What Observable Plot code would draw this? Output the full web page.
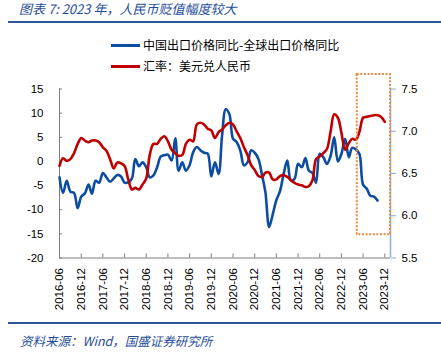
<!DOCTYPE html>
<html><head><meta charset="utf-8">
<script src="https://cdn.jsdelivr.net/npm/d3@7"></script>
<script src="https://cdn.jsdelivr.net/npm/@observablehq/plot@0.6"></script>
<style>
body{margin:0;background:#fff;}
#wrap{position:relative;width:441px;height:358px;overflow:hidden;background:#fff;}
.title{position:absolute;left:19px;top:0px;font-family:"Noto Sans CJK SC",sans-serif;font-style:italic;font-size:13px;color:#1f4e9a;line-height:17px;white-space:nowrap;}
.rule{position:absolute;left:8px;width:433px;height:2px;background:#2f5597;}
.leg{position:absolute;left:111px;display:flex;align-items:center;font-family:"Noto Sans CJK SC",sans-serif;font-size:12px;color:#000;white-space:nowrap;line-height:16px;}
.sw{width:29px;height:3px;margin-right:3px;}
.src{position:absolute;left:20px;top:333px;font-family:"Noto Sans CJK SC",sans-serif;font-style:italic;font-size:12.5px;color:#1f4e9a;line-height:16px;white-space:nowrap;}
#chart{position:absolute;left:0;top:60px;}
</style></head>
<body>
<div id="wrap">
  <div class="title">图表 7: 2023 年，人民币贬值幅度较大</div>
  <div class="rule" style="top:21px"></div>
  <div class="leg" style="top:37px"><div class="sw" style="background:#0c4da2"></div><span id="l1"></span></div>
  <div class="leg" style="top:58px"><div class="sw" style="background:#c00000"></div><span id="l2"></span></div>
  <div id="chart"></div>
  <div class="rule" style="top:322px"></div>
  <div class="src">资料来源：Wind，国盛证券研究所</div>
</div>
<script>
// ---- data ----
const seriesNames = ["中国出口价格同比-全球出口价格同比", "汇率：美元兑人民币"];
const startMonth = "2016-06";
// China export price YoY minus global export price YoY (%), 2016-06 .. 2023-10
const exportGap = [
  -3.3, -6.5, -4.0, -6.3, -6.5, -9.7, -7.3,
  -6.6, -4.8, -6.7, -4.0, -4.4, -2.4, -3.3, -4.2, -3.5, -2.8, -3.1, -4.4,
  -4.3, -3.5, 0.5, -1.0, -0.2, -1.2, -3.3, -2.9, -1.2, 1.0, 1.3, 1.4,
  0.2, 4.8, -1.9, -0.2, -1.9, -0.8, 1.9, 3.0, 2.3, 1.8, 1.6, -3.1,
  -0.2, -2.6, 5.4, 10.8, 9.8, 4.7, 4.0, 2.3, -0.8, -0.2, 2.3, 1.8,
  0.5, -2.9, -6.4, -13.6, -11.0, -8.0, -6.2, -2.6, 0.2, -3.9, -3.6, -0.5,
  -1.2, 0.7, -1.9, -2.4, -4.4, 1.6, 0.9, -0.5, 1.2, 5.0, 0.0, 1.6,
  4.7, 0.9, 2.8, 2.5, 1.6, -4.8, -5.6, -7.1, -7.3, -8.1
];
// USD/CNY, 2016-06 .. 2023-12
const usdCny = [
  6.59, 6.68, 6.65, 6.67, 6.74, 6.85, 6.92,
  6.89, 6.87, 6.89, 6.89, 6.87, 6.81, 6.77, 6.67, 6.56, 6.63, 6.62, 6.59,
  6.43, 6.31, 6.33, 6.31, 6.37, 6.44, 6.72, 6.85, 6.85, 6.91, 6.94, 6.88,
  6.78, 6.74, 6.71, 6.72, 6.85, 6.90, 6.88, 7.08, 7.10, 7.08, 7.03, 7.01,
  6.92, 6.99, 7.02, 7.07, 7.10, 7.08, 7.00, 6.92, 6.81, 6.72, 6.60, 6.54,
  6.47, 6.46, 6.51, 6.51, 6.43, 6.43, 6.47, 6.48, 6.46, 6.42, 6.39, 6.37,
  6.36, 6.34, 6.35, 6.42, 6.67, 6.70, 6.74, 6.79, 7.00, 7.20, 7.16, 6.98,
  6.78, 6.86, 6.91, 6.90, 6.99, 7.16, 7.17, 7.18, 7.19, 7.19, 7.17, 7.11
];
const xTickLabels = ["2016-06","2016-12","2017-06","2017-12","2018-06","2018-12","2019-06","2019-12",
  "2020-06","2020-12","2021-06","2021-12","2022-06","2022-12","2023-06","2023-12"];
const leftTicks = [-20, -15, -10, -5, 0, 5, 10, 15];
const rightTicks = [5.5, 6.0, 6.5, 7.0, 7.5];
const xRange = ["2016-06-01", "2024-01-18"];
// highlighted window (orange dotted box), in data units
const boxX = ["2023-04-13", "2024-01-18"];
const boxLeftY = [-15.2, 18.0];

// ---- build ----
document.getElementById("l1").textContent = seriesNames[0];
document.getElementById("l2").textContent = seriesNames[1];
const parse = d3.utcParse("%Y-%m");
const t0 = parse(startMonth);
const months = n => d3.range(n).map(i => d3.utcMonth.offset(t0, i));
const blueRows = months(exportGap.length).map((date, i) => ({date, v: exportGap[i]}));
const redRows = months(usdCny.length).map((date, i) => ({date, v: usdCny[i]}));
const xDomain = xRange.map(s => new Date(s + "T00:00Z"));
const xTicks = xTickLabels.map(parse);
const toLeft = d3.scaleLinear([5.5, 7.5], [-20, 15]);
const box = [{x1: new Date(boxX[0] + "T00:00Z"), x2: new Date(boxX[1] + "T00:00Z"), y1: boxLeftY[0], y2: boxLeftY[1]}];

const chart = Plot.plot({
  width: 441, height: 260,
  marginLeft: 59, marginRight: 51, marginTop: 28.5, marginBottom: 62.5,
  style: {fontFamily: "'Liberation Sans', Arial, sans-serif", fontSize: "11.5px", color: "#000", background: "transparent", overflow: "visible"},
  x: {type: "utc", domain: xDomain},
  y: {domain: [-20, 15]},
  marks: [
    Plot.axisY(leftTicks, {anchor: "left", tickSize: 0, tickPadding: 16, tickFormat: d => String(d)}),
    Plot.axisY(leftTicks, {anchor: "left", tickSize: -3, fill: "none", stroke: "#7f7f7f"}),
    Plot.axisX(xTicks, {anchor: "bottom", tickSize: 0, tickPadding: 10, tickRotate: -90, tickFormat: d3.utcFormat("%Y-%m")}),
    Plot.axisX(xTicks, {anchor: "bottom", tickSize: -4, fill: "none", stroke: "#7f7f7f"}),
    Plot.axisY(rightTicks.map(toLeft), {anchor: "right", tickSize: 5, tickPadding: 6, stroke: "#8faadc", tickFormat: d => toLeft.invert(d).toFixed(1)}),
    Plot.ruleX([xDomain[0]], {stroke: "#7f7f7f"}),
    Plot.ruleX([xDomain[1]], {stroke: "#8faadc", strokeWidth: 1.5}),
    Plot.ruleY([-20], {stroke: "#7f7f7f"}),
    Plot.lineY(blueRows, {x: "date", y: "v", stroke: "#0c4da2", strokeWidth: 2.6, curve: "catmull-rom"}),
    Plot.lineY(redRows, {x: "date", y: d => toLeft(d.v), stroke: "#c00000", strokeWidth: 2.6, curve: "catmull-rom"}),
    Plot.rect(box, {x1: "x1", x2: "x2", y1: "y1", y2: "y2", fill: "none", stroke: "#f08a3c", strokeWidth: 2, strokeDasharray: "2,1.6"})
  ]
});
document.getElementById("chart").appendChild(chart);
</script>
</body></html>
